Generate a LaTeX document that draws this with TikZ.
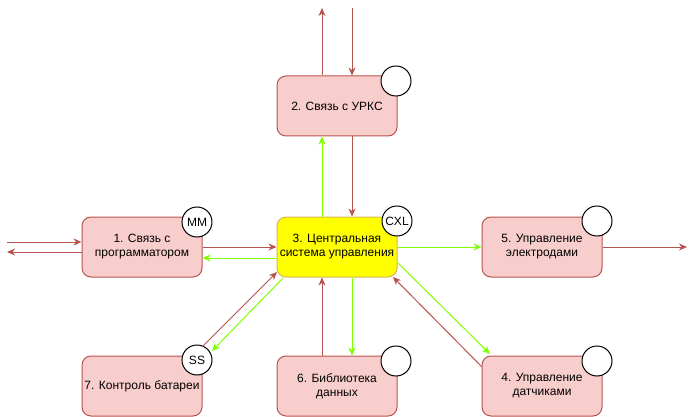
\documentclass[tikz,border=0pt]{standalone}
\usepackage{fontspec}
\setmainfont{Liberation Sans}
\usetikzlibrary{arrows.meta,calc}
\definecolor{pinkfill}{HTML}{F8CECC}
\definecolor{pinkline}{HTML}{B85450}
\definecolor{yelfill}{HTML}{FFFF00}
\definecolor{yelline}{HTML}{D6B656}
\definecolor{grn}{HTML}{80FF00}
\tikzset{
  block/.style={rectangle, rounded corners=9pt, minimum width=120pt, minimum height=60pt,
    draw=pinkline, fill=pinkfill, line width=1pt, align=center, font=\fontsize{12}{14}\selectfont, inner sep=0pt},
  central/.style={block, draw=yelline, fill=yelfill},
  badge/.style={circle, draw=black, fill=white, line width=1pt, minimum size=30pt, inner sep=0pt, font=\fontsize{12}{14}\selectfont},
  redarr/.style={draw=pinkline, line width=1pt, -{Stealth[length=8pt,width=7pt,inset=2.5pt]}},
  grnarr/.style={draw=grn, line width=1pt, -{Stealth[length=8pt,width=7pt,inset=2.5pt]}},
}
\begin{document}
\begin{tikzpicture}[x=1pt,y=-1pt]
\useasboundingbox (0,0) rectangle (696,417);
% nodes
\node[block] (n1) at (142,247) {1. Связь с\\программатором};
\node[block] (n2) at (337,106) {2. Связь с УРКС};
\node[central] (n3) at (337,247) {3. Центральная\\система управления};
\node[block] (n5) at (542,247) {5. Управление\\электродами};
\node[block] (n7) at (142,386) {7. Контроль батареи};
\node[block] (n6) at (337,386) {6. Библиотека\\данных};
\node[block] (n4) at (542,386) {4. Управление\\датчиками};
% badges
\node[badge] (b1) at (197,222) {MM};
\node[badge] (b2) at (396,81) {};
\node[badge] (b3) at (397,221) {CXL};
\node[badge] (b5) at (597,221) {};
\node[badge] (b7) at (197,360) {SS};
\node[badge] (b6) at (396,361) {};
\node[badge] (b4) at (597,361) {};
% free ends
\coordinate (t1) at (322,8);
\coordinate (t2) at (352,8);
\coordinate (l1) at (7,242);
\coordinate (l2) at (7,252);
\coordinate (r1) at (687,247);
% connectors top
\draw[redarr] (n2.north -| t1) -- (t1);
\draw[redarr] (t2) -- (n2.north -| t2);
\draw[grnarr] (n3.north -| t1) -- (n2.south -| t1);
\draw[redarr] (n2.south -| t2) -- (n3.north -| t2);
% left
\draw[redarr] (l1) -- (n1.west |- l1);
\draw[redarr] (n1.west |- l2) -- (l2);
\draw[redarr] (n1.east) -- (n3.west);
\coordinate (g1) at (0,258);
\draw[grnarr] (n3.west |- g1) -- (n1.east |- g1);
% right
\draw[grnarr] (n3.east) -- (n5.west);
\draw[redarr] (n5.east) -- (r1);
% bottom
\draw[redarr] (n6.north -| t1) -- (n3.south -| t1);
\draw[grnarr] (n3.south -| t2) -- (n6.north -| t2);
% node 7
\coordinate (a7) at (202,347);
\coordinate (a3) at (277,272);
\coordinate (g3) at (283,278);
\coordinate (g7) at (212,351);
\draw[redarr] (a7) -- (a3);
\draw[grnarr] (g3) -- (g7);
% node 4
\coordinate (g3r) at (398,263);
\coordinate (g4) at (490,354);
\coordinate (r4) at (482,367);
\coordinate (r3) at (393,277);
\draw[grnarr] (g3r) -- (g4);
\draw[redarr] (r4) -- (r3);
\end{tikzpicture}
\end{document}
